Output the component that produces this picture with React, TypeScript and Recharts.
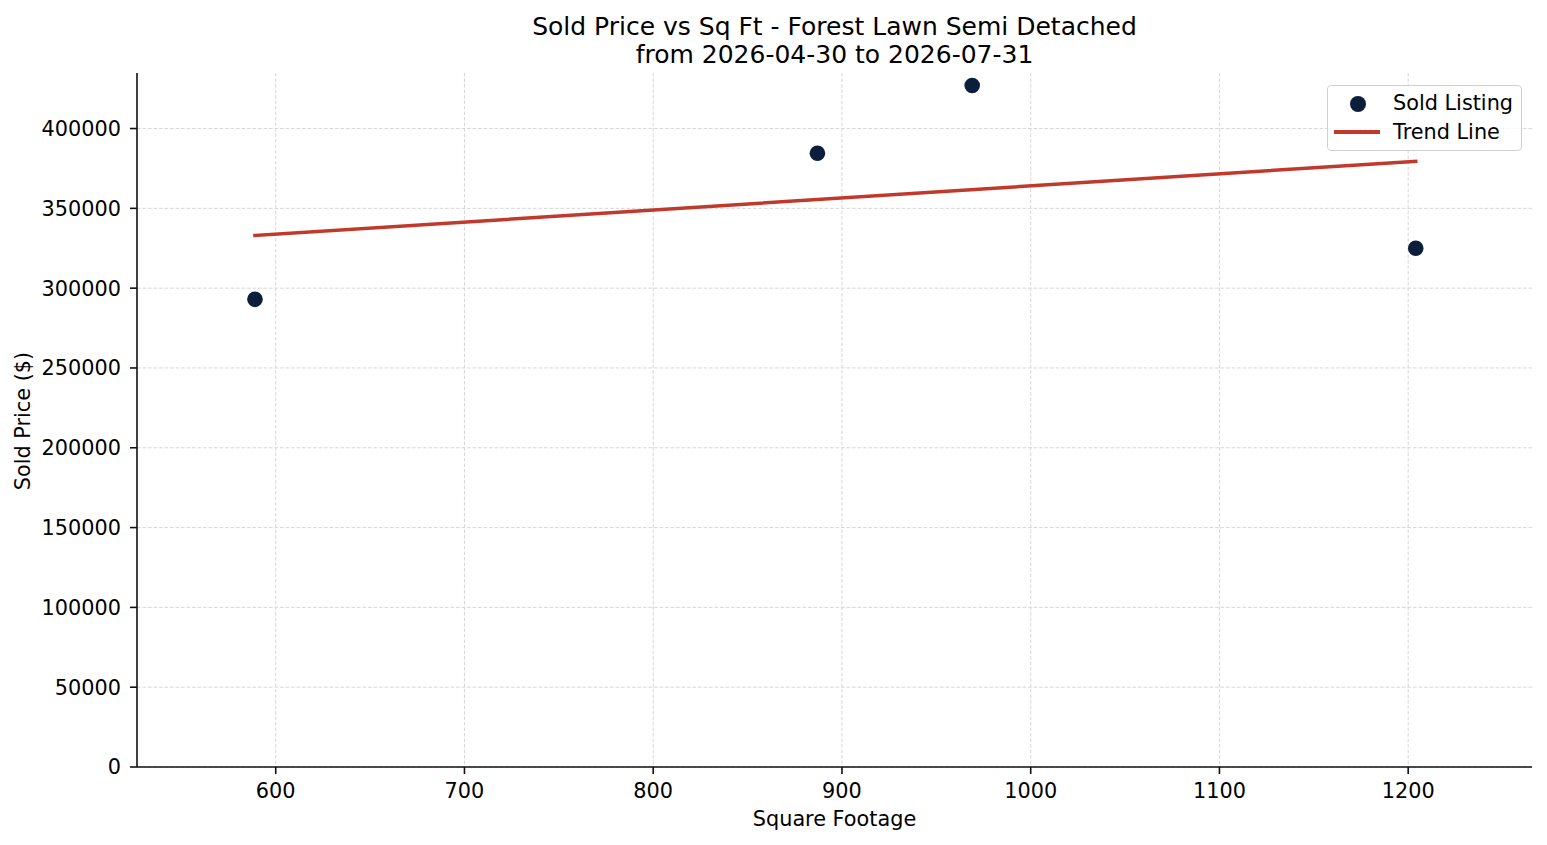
import { ComposedChart, Scatter, Line, XAxis, YAxis, CartesianGrid } from 'recharts';

// sold listings
const sqft = [589, 887, 969, 1204];
const soldPrice = [293000, 384500, 427000, 325000];

// fitted trend line end points
const trendSqft = [589, 1204];
const trendPrice = [333000, 379500];

const xTicks = [600, 700, 800, 900, 1000, 1100, 1200];
const yTicks = [0, 50000, 100000, 150000, 200000, 250000, 300000, 350000, 400000];

const listings = sqft.map((x, i) => ({ x, y: soldPrice[i] }));
const trend = trendSqft.map((x, i) => ({ x, y: trendPrice[i] }));

const FONT = '"DejaVu Sans", Verdana, sans-serif';
const NAVY = '#0b1f3d';
const RED = '#c0392b';
const AXIS = { stroke: '#111', strokeWidth: 1.6 };
const TICK = { fill: '#000', fontSize: 20.8, fontFamily: FONT };

export default function App() {
  return (
    <div style={{ position: 'absolute', left: 0, top: 0, width: 1547, height: 845, background: '#fff', fontFamily: FONT }}>
      <ComposedChart width={1547} height={845} margin={{ top: 73, right: 15, bottom: 18, left: 0 }}>
        <CartesianGrid
          stroke="#d2d2d2"
          strokeWidth={0.9}
          strokeDasharray="3.7 1.8"
          horizontalValues={yTicks}
          verticalValues={xTicks}
        />
        <XAxis
          type="number"
          dataKey="x"
          domain={[526.5, 1265.6]}
          ticks={xTicks}
          allowDataOverflow
          height={60}
          tickSize={7}
          tickMargin={9}
          axisLine={AXIS}
          tickLine={AXIS}
          tick={TICK}
        />
        <YAxis
          type="number"
          dataKey="y"
          domain={[0, 434800]}
          ticks={yTicks}
          allowDataOverflow
          width={137}
          tickSize={7}
          tickMargin={9}
          axisLine={AXIS}
          tickLine={AXIS}
          tick={TICK}
        />
        <Line
          data={trend}
          dataKey="y"
          type="linear"
          stroke={RED}
          strokeWidth={3.5}
          strokeLinecap="square"
          dot={false}
          activeDot={false}
          isAnimationActive={false}
        />
        <Scatter
          data={listings}
          dataKey="y"
          fill={NAVY}
          isAnimationActive={false}
          shape={(p: any) => <circle cx={p.cx} cy={p.cy} r={7.8} fill={NAVY} />}
        />
      </ComposedChart>

      <div style={{ position: 'absolute', left: 137, width: 1395, top: 13, textAlign: 'center', fontSize: 25, lineHeight: '28px', color: '#000' }}>
        Sold Price vs Sq Ft - Forest Lawn Semi Detached
        <br />
        from 2026-04-30 to 2026-07-31
      </div>

      <div style={{ position: 'absolute', left: 137, width: 1395, top: 807, textAlign: 'center', fontSize: 20.8, lineHeight: '24px', color: '#000' }}>
        Square Footage
      </div>

      <div
        style={{
          position: 'absolute',
          left: 23,
          top: 421,
          transform: 'translate(-50%, -50%) rotate(-90deg)',
          fontSize: 20.8,
          lineHeight: '24px',
          whiteSpace: 'nowrap',
          color: '#000',
        }}
      >
        Sold Price ($)
      </div>

      <div
        style={{
          position: 'absolute',
          left: 1327,
          top: 85,
          width: 193,
          height: 64,
          border: '1px solid #d0d0d0',
          borderRadius: 4,
          background: 'rgba(255,255,255,0.8)',
          fontSize: 20.8,
          color: '#000',
        }}
      >
        <div style={{ position: 'absolute', left: 22, top: 10, width: 16, height: 16, borderRadius: '50%', background: NAVY }} />
        <div style={{ position: 'absolute', left: 65, top: 5, lineHeight: '24px', whiteSpace: 'nowrap' }}>Sold Listing</div>
        <div style={{ position: 'absolute', left: 6, top: 44, width: 46, height: 3.5, background: RED }} />
        <div style={{ position: 'absolute', left: 65, top: 34, lineHeight: '24px', whiteSpace: 'nowrap' }}>Trend Line</div>
      </div>
    </div>
  );
}
